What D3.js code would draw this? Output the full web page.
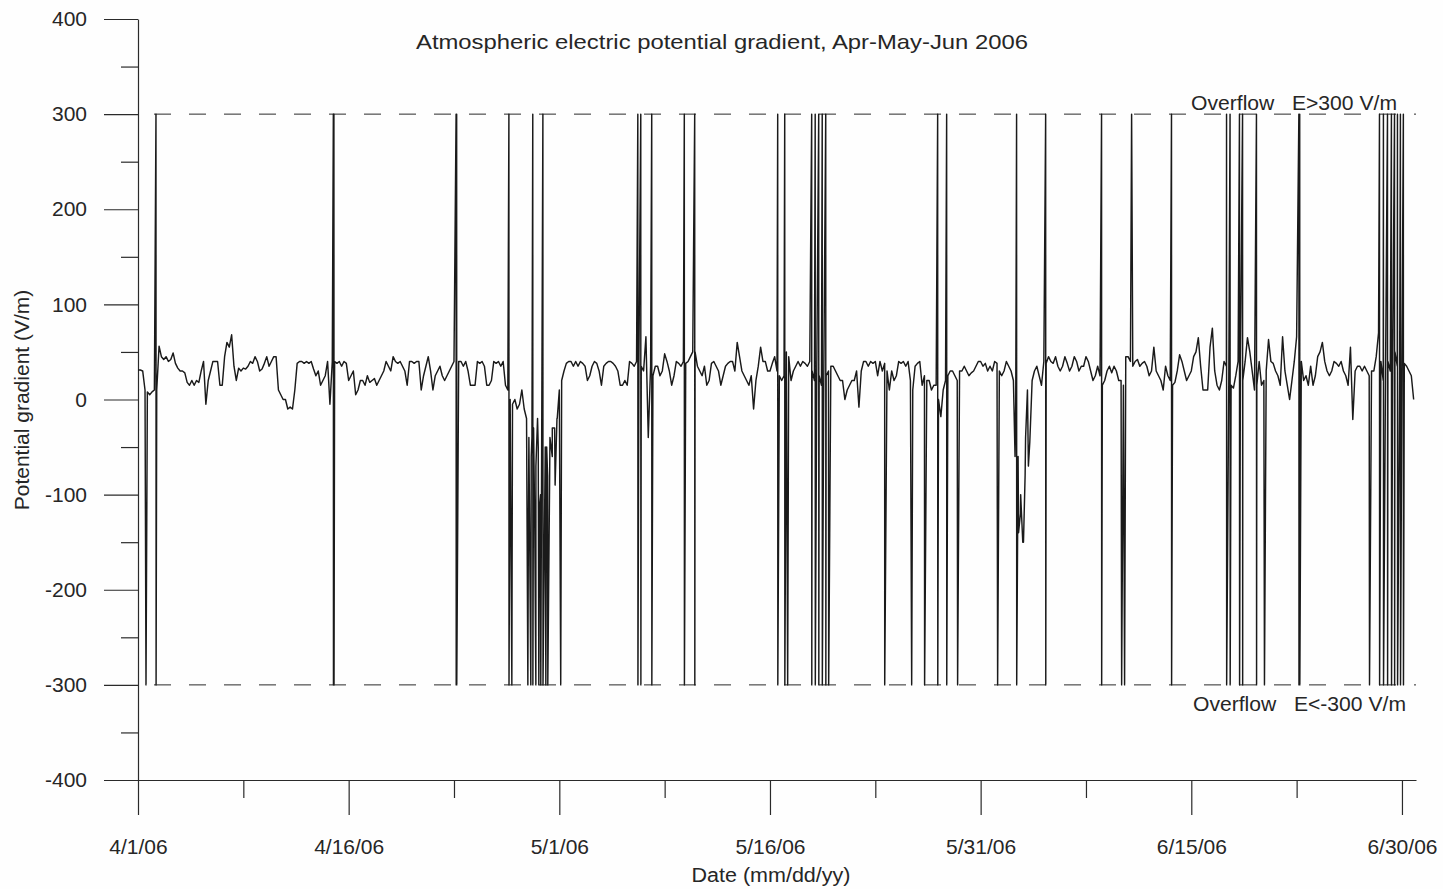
<!DOCTYPE html>
<html>
<head>
<meta charset="utf-8">
<script src="https://cdn.jsdelivr.net/npm/d3@7"></script>
<style>
body { margin: 0; background: #fff; }
text { font-family: "Liberation Sans", Arial, Helvetica, sans-serif; fill: #262626; }
</style>
</head>
<body>
<div id="chart"></div>
<script>
// potential gradient (V/m), one value every 4 hours
var aprilPG = [
	31, 31, 30, 10, 8, 5,   8, 10, 10, 56, 45, 42,   45, 40, 42, 49, 38, 33,   30, 30, 28, 18, 15, 20,
	15, 20, 18, 30, 40, -5,   20, 30, 40, 40, 40, 15,   15, 45, 60, 55, 68, 35,   20, 33, 30, 33, 32, 35,
	40, 38, 45, 40, 30, 32,   38, 45, 35, 40, 45, 45,   10, 5, 0, 0, -10, -8,   -10, 10, 38, 40, 40, 38,
	40, 38, 40, 32, 25, 30,   15, 20, 25, 40, -5, 40,   40, 38, 40, 35, 40, 38,   20, 25, 30, 5, 10, 20,
	20, 15, 25, 18, 20, 22,   15, 20, 25, 30, 40, 35,   30, 45, 40, 38, 40, 35,   30, 15, 40, 40, 38, 40,
	40, 10, 25, 35, 45, 30,   10, 25, 30, 35, 25, 20,   25, 30, 35, 40, 35, 40,   40, 35, 40, 30, 15, 15,
	15, 40, 38, 40, 35, 15,   15, 20, 40, 38, 40, 35,   40, 15, 10, 0, -5, 0,   -10, -5, 10, -10, -20, -40,
	-60, -30, -70, -50, -100, -60,   -50, -80, -40, -60, -30, -20
];
var mayPG = [
	10, 20, 30, 38, 40, 40,   35, 40, 35, 40, 38, 35,   20, 25, 35, 40, 38, 30,   15, 35, 38, 40, 40, 38,
	35, 30, 15, 15, 20, 15,   40, 38, 35, 40, 38, 35,   30, 66, -40, 35, 25, 35,   35, 25, 30, 48, 40, 30,
	15, 25, 40, 38, 35, 40,   38, 40, 45, 50, 50, 35,   30, 25, 35, 15, 20, 38,   40, 35, 30, 15, 25, 35,
	38, 40, 40, 30, 60, 45,   30, 25, 20, 15, 25, -10,   20, 35, 55, 40, 40, 30,   30, 38, 45, 30, 25, 20,
	25, 50, 45, 20, 30, 35,   40, 35, 40, 38, 35, 40,   30, 20, 35, 25, 15, 30,   25, 30, 35, 35, 30, 25,
	20, 20, 0, 10, 15, 20,   20, 30, -8, 30, 40, 40,   35, 40, 38, 40, 25, 40,   30, 38, 30, 10, 30, 20,
	25, 40, 38, 40, 35, 40,   20, 10, 35, 38, 40, 15,   25, 20, 20, 10, 15, 15,   0, -18, 10, 20, 25, 30,
	30, 25, 20, 30, 30, 35,   30, 25, 28, 30, 35, 40,   40, 35, 38, 30, 35, 30
];
var junePG = [
	40, 38, 30, 25, 30, 40,   35, 30, 20, 0, -60, -120,   -150, -80, 10, -45, 20, 30,   35, 25, 15, 40, 38, 45,
	40, 38, 45, 35, 30, 35,   45, 38, 30, 35, 45, 40,   30, 35, 35, 45, 40, 30,   20, 25, 35, 25, 15, 20,
	30, 35, 28, 35, 30, 20,   20, 15, 45, 45, 40, 35,   40, 42, 35, 38, 40, 35,   25, 30, 55, 30, 25, 20,
	10, 35, 25, 20, 15, 18,   30, 47, 40, 30, 20, 25,   30, 45, 50, 65, 35, 10,   10, 10, 55, 75, 30, 15,
	10, 20, 40, 35, 12, 15,   12, 25, 40, 45, 20, 40,   65, 50, 30, 10, 15, 40,   15, 20, 30, 63, 40, 38,
	30, 25, 15, 66, 30, 15,   0, 20, 40, 66, 75, 40,   20, 25, 15, 35, 15, 25,   45, 50, 60, 40, 30, 25,
	30, 40, 38, 35, 40, 30,   25, 15, 55, -21, 30, 35,   35, 30, 35, 30, 25, 30,   30, 45, 70, 40, 20, 35,
	40, 30, 25, 50, 35, 20,   40, 38, 35, 30, 25, 0
];

// overflow events, in days since 4/1/06 00:00
var overflowBothDays = [1.28, 13.91, 13.95, 22.65, 22.69, 26.41, 28.11, 28.83, 35.59, 35.80, 36.58, 38.90, 39.64,
	45.55, 46.05, 47.97, 48.22, 48.47, 48.72, 48.97, 56.94, 57.58, 62.56, 64.63, 68.61, 73.59, 77.51, 77.76,
	78.43, 78.65, 79.64, 82.66, 82.72, 88.40, 88.68, 88.97, 89.25, 89.47, 89.68, 89.89, 90.10];
var overflowUpDays = [70.75];
var overflowDownDays = [0.57, 26.62, 27.76, 27.97, 28.33, 28.54, 28.68, 29.04, 29.18, 30.10, 46.26, 49.18,
	53.17, 55.09, 56.01, 58.36, 61.21, 70.04, 70.25, 80.21, 87.69];

// short negative excursions inside the two disturbed periods
var dipDays = [27.80, 28.05, 28.25, 28.45, 28.60, 28.95, 29.10, 29.30, 29.50, 29.70, 29.85,
	62.45, 62.70, 62.85, 63.05, 63.20, 63.40];
var dipValues = [-120, -40, -130, -20, -110, -125, -50, -100, -30, -90, -20,
	-60, -140, -100, -150, -40, -70];

var yTickValues = [-400, -300, -200, -100, 0, 100, 200, 300, 400];
var yMinorValues = [-350, -250, -150, -50, 50, 150, 250, 350];
var dateTickLabels = ["4/1/06", "4/16/06", "5/1/06", "5/16/06", "5/31/06", "6/15/06", "6/30/06"];
var overflowLevel = 300;
var samplesPerDay = 6;

var w = 1443, h = 889;
var DAY = 864e5;
var t0 = Date.UTC(2006, 3, 1);

var svg = d3.select("#chart")
	.append("svg")
	.attr("width", w)
	.attr("height", h);

svg.append("rect")
	.attr("width", w)
	.attr("height", h)
	.attr("fill", "#fefefe");

var x = d3.scaleUtc()
	.domain([new Date(t0), new Date(t0 + 91 * DAY)])
	.range([138, 1416]);

var y = d3.scaleLinear()
	.domain([-400, 400])
	.range([780, 19]);

// build the series: regular samples plus the overflow / dip points
var series = [];
aprilPG.concat(mayPG, junePG).forEach(function(v, i) {
	series.push({ t: i / samplesPerDay, v: v });
});
overflowBothDays.forEach(function(d) {
	series.push({ t: d, v: overflowLevel });
	series.push({ t: d + 0.008, v: -overflowLevel });
});
overflowUpDays.forEach(function(d) {
	series.push({ t: d, v: overflowLevel });
});
overflowDownDays.forEach(function(d) {
	series.push({ t: d, v: -overflowLevel });
});
dipDays.forEach(function(d, i) {
	series.push({ t: d, v: dipValues[i] });
});
series.sort(function(a, b) { return a.t - b.t; });

var parseDate = d3.utcParse("%m/%d/%y");
var majorDates = dateTickLabels.map(parseDate);
var minorDates = d3.pairs(majorDates).map(function(p) {
	return new Date((+p[0] + +p[1]) / 2);
});

var ink = "#2a2a2a";

// overflow limits
svg.append("g")
	.selectAll("line")
	.data([overflowLevel, -overflowLevel])
	.enter()
	.append("line")
	.attr("x1", x.range()[0])
	.attr("x2", x.range()[1])
	.attr("y1", function(d) { return y(d); })
	.attr("y2", function(d) { return y(d); })
	.attr("stroke", ink)
	.attr("stroke-width", 1)
	.attr("stroke-dasharray", "17,18")
	.attr("stroke-dashoffset", -16);

// y axis
var yAxis = d3.axisLeft(y)
	.tickValues(yTickValues)
	.tickSize(34)
	.tickSizeOuter(0)
	.tickPadding(17)
	.tickFormat(function(d) { return String(d); });

var yBar = svg.append("g")
	.attr("transform", "translate(138,0)")
	.call(yAxis);

svg.append("g")
	.attr("transform", "translate(138,0)")
	.call(d3.axisLeft(y).tickValues(yMinorValues).tickSize(17).tickSizeOuter(0).tickFormat(""))
	.select(".domain").remove();

// x axis
var xAxis = d3.axisBottom(x)
	.tickValues(majorDates)
	.tickSize(35)
	.tickSizeOuter(0)
	.tickPadding(24)
	.tickFormat(function(d, i) { return dateTickLabels[i]; });

var xBar = svg.append("g")
	.attr("transform", "translate(0," + y(-400) + ")")
	.call(xAxis);

svg.append("g")
	.attr("transform", "translate(0," + y(-400) + ")")
	.call(d3.axisBottom(x).tickValues(minorDates).tickSize(18).tickSizeOuter(0).tickFormat(""))
	.select(".domain").remove();

svg.selectAll(".domain, .tick line")
	.attr("stroke", ink)
	.attr("stroke-width", 1.2);

svg.selectAll(".tick text")
	.attr("fill", "#262626")
	.style("font-size", "21px")
	.style("font-family", "'Liberation Sans', Arial, sans-serif");

// the trace
var line = d3.line()
	.x(function(d) { return x(new Date(t0 + d.t * DAY)); })
	.y(function(d) { return y(d.v); });

svg.append("path")
	.datum(series)
	.attr("d", line)
	.attr("fill", "none")
	.attr("stroke", "#1a1a1a")
	.attr("stroke-width", 1.45)
	.attr("stroke-linejoin", "round");

// titles and labels
svg.append("text")
	.attr("x", 722)
	.attr("y", 49)
	.attr("text-anchor", "middle")
	.attr("textLength", 612)
	.attr("lengthAdjust", "spacingAndGlyphs")
	.style("font-size", "21px")
	.text("Atmospheric electric potential gradient, Apr-May-Jun 2006");

svg.append("text")
	.attr("x", 1397)
	.attr("y", y(overflowLevel) - 4)
	.attr("text-anchor", "end")
	.attr("textLength", 206)
	.attr("lengthAdjust", "spacingAndGlyphs")
	.style("font-size", "20px")
	.style("white-space", "pre")
	.text("Overflow   E>300 V/m");

svg.append("text")
	.attr("x", 1406)
	.attr("y", y(-overflowLevel) + 26)
	.attr("text-anchor", "end")
	.attr("textLength", 213)
	.attr("lengthAdjust", "spacingAndGlyphs")
	.style("font-size", "20px")
	.style("white-space", "pre")
	.text("Overflow   E<-300 V/m");

svg.append("text")
	.attr("transform", "translate(29,400) rotate(-90)")
	.attr("text-anchor", "middle")
	.style("font-size", "21px")
	.text("Potential gradient (V/m)");

svg.append("text")
	.attr("x", 771)
	.attr("y", 882)
	.attr("text-anchor", "middle")
	.attr("textLength", 159)
	.attr("lengthAdjust", "spacingAndGlyphs")
	.style("font-size", "20px")
	.text("Date (mm/dd/yy)");
</script>
</body>
</html>
